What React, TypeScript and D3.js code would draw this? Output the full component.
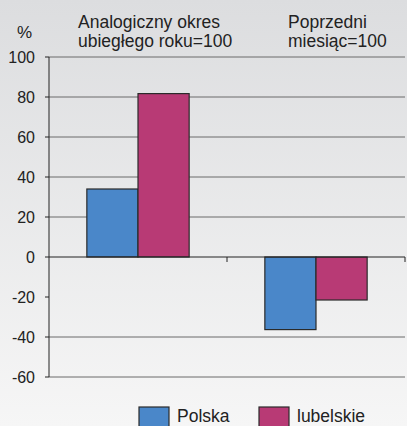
import React from "react";
import * as d3 from "d3";

const categories = ["Analogiczny okres|ubiegłego roku=100", "Poprzedni|miesiąc=100"];
const seriesNames = ["Polska", "lubelskie"];
const polska = [34, -36.3];
const lubelskie = [81.7, -21.5];
const yTicks = [100, 80, 60, 40, 20, 0, -20, -40, -60];
const gridTicks = [100, 80, 60, 40, 20, -40, -60];

const colors = ["#4a87c9", "#b83a75"];
const W = 407;
const H = 426;
const margin = { left: 49, right: 2, top: 57, bottom: 49 };

const App = () => {
  const x = d3
    .scaleBand()
    .domain(categories)
    .range([margin.left, W - margin.right])
    .paddingInner(0)
    .paddingOuter(0);
  const y = d3.scaleLinear().domain([-60, 100]).range([H - margin.bottom, margin.top]);

  const inner = d3
    .scaleBand()
    .domain(seriesNames)
    .range([0, x.bandwidth()])
    .paddingInner(0)
    .paddingOuter(0.74);

  const values = [polska, lubelskie];
  const font = "'Liberation Sans', Arial, sans-serif";

  return (
    <svg width={W} height={H} style={{ position: "absolute", left: 0, top: 0 }} fontFamily={font}>
      <defs>
        <linearGradient id="bg" x1="0" y1="0" x2="0" y2="1">
          <stop offset="0" stopColor="#dcdddf" />
          <stop offset="1" stopColor="#f6f6f6" />
        </linearGradient>
      </defs>
      <rect width={W} height={H} fill="url(#bg)" />

      {/* grid lines */}
      {gridTicks.map((t) => (
        <line key={t} x1={margin.left} x2={W - margin.right} y1={y(t)} y2={y(t)} stroke="#6a6a6a" strokeWidth={1} />
      ))}
      {yTicks.map((t) => (
        <g key={t}>
          <line x1={margin.left - 4} x2={margin.left} y1={y(t)} y2={y(t)} stroke="#222" />
          <text x={35} y={y(t)} dy="0.36em" textAnchor="end" fontSize={16} fill="#222">
            {t}
          </text>
        </g>
      ))}

      {/* bars */}
      {categories.map((c, ci) =>
        seriesNames.map((s, si) => {
          const v = values[si][ci];
          const bx = (x(c) ?? 0) + (inner(s) ?? 0);
          return (
            <rect
              key={c + s}
              x={bx}
              y={y(Math.max(0, v))}
              width={inner.bandwidth()}
              height={Math.abs(y(v) - y(0))}
              fill={colors[si]}
              stroke="#2a2a2a"
              strokeWidth={1.2}
            />
          );
        })
      )}

      {/* axes */}
      <line x1={margin.left} x2={W - margin.right} y1={y(0)} y2={y(0)} stroke="#222" />
      <line x1={margin.left} x2={margin.left} y1={y(100)} y2={y(-60)} stroke="#222" />
      {categories.slice(1).map((c) => (
        <line key={c} x1={x(c)} x2={x(c)} y1={y(0)} y2={y(0) + 5} stroke="#222" />
      ))}
      <line x1={W - margin.right} x2={W - margin.right} y1={y(0)} y2={y(0) + 5} stroke="#222" />

      {/* category labels */}
      <text x={17} y={38} fontSize={17} fill="#222">%</text>
      {categories.map((c, ci) =>
        c.split("|").map((part, pi) => (
          <text key={c + pi} x={ci === 0 ? 78 : 288} y={28 + pi * 19} fontSize={17.5} fill="#222">
            {part}
          </text>
        ))
      )}

      {/* legend */}
      {seriesNames.map((s, si) => (
        <g key={s} transform={`translate(${si === 0 ? 139 : 259},407)`}>
          <rect width={30} height={22} fill={colors[si]} stroke="#2a2a2a" strokeWidth={1.2} />
          <text x={38} y={15} fontSize={17.5} fill="#222">{s}</text>
        </g>
      ))}
    </svg>
  );
};

export default App;
